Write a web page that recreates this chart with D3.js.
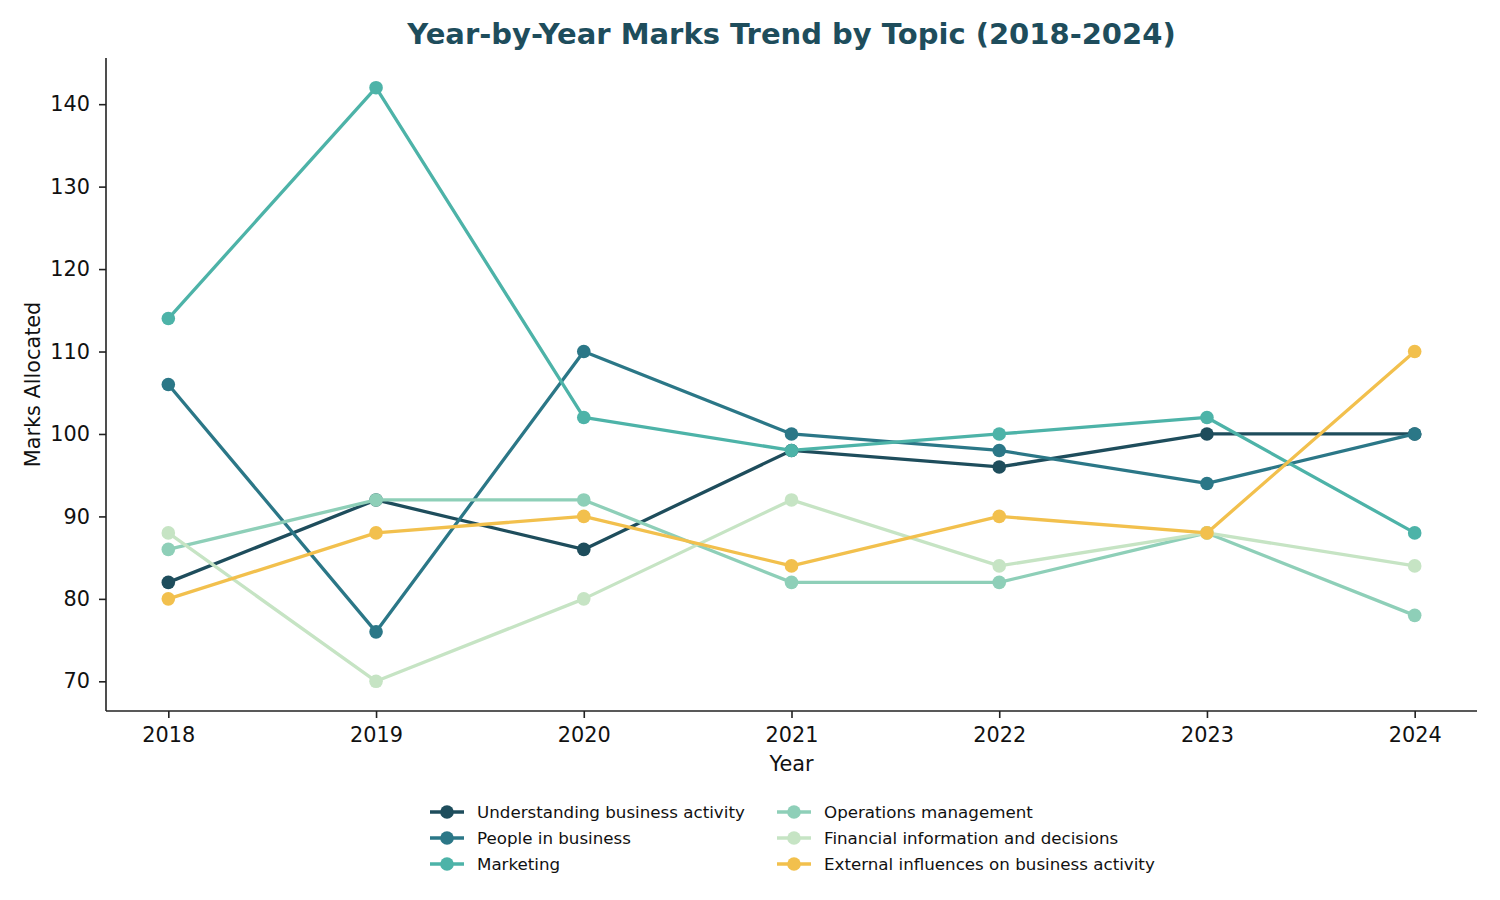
<!DOCTYPE html>
<html>
<head>
<meta charset="utf-8">
<title>Marks trend</title>
<script src="https://cdn.jsdelivr.net/npm/d3@7"></script>
<style>
  body { margin: 0; background: #fff; }
  text { font-family: "DejaVu Sans", sans-serif; }
</style>
</head>
<body>
<svg id="svg"></svg>
<script>
var WIDTH = 1500, HEIGHT = 900;

var years = [2018, 2019, 2020, 2021, 2022, 2023, 2024];
var topics = ["Understanding business activity", "People in business", "Marketing",
              "Operations management", "Financial information and decisions",
              "External influences on business activity"];
var understanding = [82, 92, 86, 98, 96, 100, 100];
var people = [106, 76, 110, 100, 98, 94, 100];
var marketing = [114, 142, 102, 98, 100, 102, 88];
var operations = [86, 92, 92, 82, 82, 88, 78];
var financial = [88, 70, 80, 92, 84, 88, 84];
var external = [80, 88, 90, 84, 90, 88, 110];
var yTicks = [70, 80, 90, 100, 110, 120, 130, 140];

var seriesValues = [understanding, people, marketing, operations, financial, external];
var colors = ["#1e4d5c", "#2b7787", "#4db3a8", "#8ecfb8", "#c6e4c4", "#f2c04d"];

var margin = {left: 106, right: 23, top: 58, bottom: 189};

var svg = d3.select("#svg").attr("width", WIDTH).attr("height", HEIGHT);

var xScale = d3.scaleLinear()
    .domain([2017.7, 2024.3])
    .range([margin.left, WIDTH - margin.right]);
var yScale = d3.scaleLinear()
    .domain([66.4, 145.6])
    .range([HEIGHT - margin.bottom, margin.top]);

var xAxis = svg.append("g")
    .attr("transform", "translate(0," + (HEIGHT - margin.bottom) + ")")
    .call(d3.axisBottom(xScale).tickValues(years).tickFormat(d3.format("d")).tickSize(7).tickPadding(9));
var yAxis = svg.append("g")
    .attr("transform", "translate(" + margin.left + ",0)")
    .call(d3.axisLeft(yScale).tickValues(yTicks).tickSize(7).tickPadding(9));

[xAxis, yAxis].forEach(function(ax){
    ax.select(".domain").attr("stroke", "#222").attr("stroke-width", 1.6);
    ax.selectAll(".tick line").attr("stroke", "#222").attr("stroke-width", 1.6);
    ax.selectAll(".tick text").attr("font-size", "20.8px").attr("fill", "#111")
      .attr("font-family", "DejaVu Sans");
});
// spines run the full length, no end caps
xAxis.select(".domain").attr("d", "M" + margin.left + ",0H" + (WIDTH - margin.right));
yAxis.select(".domain").attr("d", "M0," + margin.top + "V" + (HEIGHT - margin.bottom));

var line = d3.line()
    .x(function(d, i){ return xScale(years[i]); })
    .y(function(d){ return yScale(d); });

seriesValues.forEach(function(vals, k){
    var g = svg.append("g");
    g.append("path")
        .datum(vals)
        .attr("d", line)
        .attr("fill", "none")
        .attr("stroke", colors[k])
        .attr("stroke-width", 3.3)
        .attr("stroke-linejoin", "round");
    g.selectAll("circle")
        .data(vals)
        .enter()
        .append("circle")
        .attr("cx", function(d, i){ return xScale(years[i]); })
        .attr("cy", function(d){ return yScale(d); })
        .attr("r", 6.8)
        .attr("fill", colors[k]);
});

svg.append("text")
    .attr("x", (margin.left + WIDTH - margin.right) / 2)
    .attr("y", 44)
    .attr("text-anchor", "middle")
    .attr("font-size", "29px")
    .attr("font-weight", "bold")
    .attr("fill", "#1e4d5c")
    .text("Year-by-Year Marks Trend by Topic (2018-2024)");

svg.append("text")
    .attr("x", (margin.left + WIDTH - margin.right) / 2)
    .attr("y", 771)
    .attr("text-anchor", "middle")
    .attr("font-size", "20.8px")
    .attr("fill", "#111")
    .text("Year");

svg.append("text")
    .attr("transform", "translate(40," + ((margin.top + HEIGHT - margin.bottom) / 2) + ") rotate(-90)")
    .attr("text-anchor", "middle")
    .attr("font-size", "20.8px")
    .attr("fill", "#111")
    .text("Marks Allocated");

// legend, two columns
var legend = svg.append("g");
topics.forEach(function(name, k){
    var col = Math.floor(k / 3), row = k % 3;
    var lx = 430 + col * 347, ly = 812 + row * 26;
    var item = legend.append("g").attr("transform", "translate(" + lx + "," + ly + ")");
    item.append("line").attr("x1", 0).attr("x2", 34).attr("y1", 0).attr("y2", 0)
        .attr("stroke", colors[k]).attr("stroke-width", 3.3);
    item.append("circle").attr("cx", 17).attr("cy", 0).attr("r", 6.8).attr("fill", colors[k]);
    item.append("text").attr("x", 47).attr("y", 6).attr("font-size", "16.7px")
        .attr("fill", "#111").text(name);
});
</script>
</body>
</html>
